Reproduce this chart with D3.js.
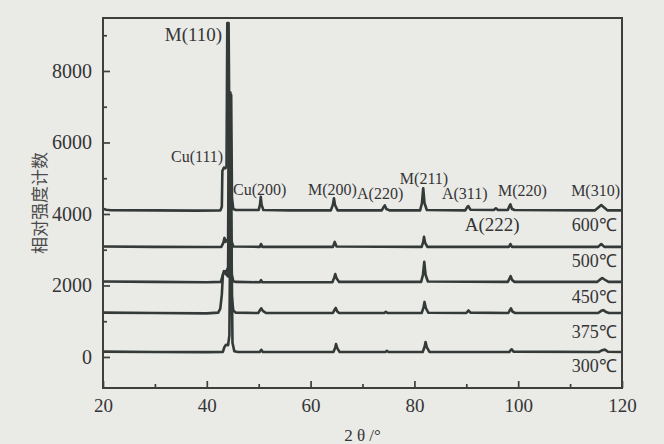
<!DOCTYPE html>
<html>
<head>
<meta charset="utf-8">
<script src="https://cdn.jsdelivr.net/npm/d3@7"></script>
<style>
  html, body { margin: 0; padding: 0; background: #eaeae7; }
  svg { display: block; }
  svg text { fill: #353535; font-family: "Liberation Serif", "Times New Roman", serif; }
  svg text.cjk { font-family: "Noto Sans CJK SC", sans-serif; fill: #4a4a4a; }
</style>
</head>
<body>
<svg id="chart" width="664" height="444"></svg>
<script>
// XRD patterns, [2θ (°), relative intensity (counts)], stacked by annealing temperature
const temperatures = ["600℃", "500℃", "450℃", "375℃", "300℃"];

const pattern600 = [
  [20, 4150], [20.6, 4120], [21.5, 4105], [30, 4100], [38, 4095], [42.6, 4100], [42.9, 4200],
  [43.0, 5200], [43.3, 5300], [43.6, 5280], [43.8, 5320], [43.95, 9340], [44.2, 9340],
  [44.3, 7330], [44.7, 7330], [44.85, 4450], [45.1, 4140], [45.6, 4110], [50.0, 4110],
  [50.25, 4260], [50.4, 4480], [50.55, 4260], [50.9, 4110], [56, 4100], [63.9, 4100],
  [64.3, 4260], [64.5, 4440], [64.7, 4250], [65.2, 4100], [73.7, 4100], [74.1, 4200],
  [74.3, 4240], [74.6, 4140], [75.2, 4100], [81.1, 4100], [81.45, 4300], [81.7, 4720],
  [81.95, 4300], [82.4, 4110], [89.8, 4100], [90.2, 4200], [90.4, 4220], [90.8, 4120],
  [95.3, 4110], [95.7, 4160], [96.1, 4110], [98.0, 4110], [98.3, 4220], [98.5, 4270],
  [98.8, 4140], [99.3, 4110], [114.8, 4100], [115.5, 4190], [116.0, 4250], [116.5, 4190],
  [117.2, 4100], [120, 4100]
];

const pattern500 = [
  [20, 3090], [30, 3080], [40, 3075], [42.8, 3080], [43.2, 3200], [43.4, 3330], [43.6, 3220],
  [44.1, 3300], [44.3, 7400], [44.55, 7400], [44.75, 3250], [45.1, 3090], [50.2, 3080],
  [50.45, 3160], [50.7, 3080], [64.3, 3080], [64.65, 3220], [65.0, 3090], [81.4, 3080],
  [81.7, 3220], [81.85, 3360], [82.05, 3200], [82.5, 3080], [98.2, 3080], [98.5, 3160],
  [98.8, 3080], [115.4, 3080], [116.0, 3160], [116.6, 3080], [120, 3080]
];

const pattern450 = [
  [20, 2110], [30, 2100], [40, 2090], [42.7, 2100], [43.0, 2250], [43.3, 2400], [43.7, 2380],
  [44.1, 2500], [44.3, 6400], [44.55, 6400], [44.75, 2350], [45.1, 2120], [45.6, 2100],
  [50.2, 2090], [50.45, 2150], [50.7, 2090], [64.2, 2090], [64.55, 2220], [64.75, 2320],
  [65.0, 2200], [65.5, 2100], [81.3, 2100], [81.65, 2300], [81.9, 2660], [82.15, 2300],
  [82.6, 2110], [98.0, 2100], [98.35, 2200], [98.55, 2260], [98.85, 2150], [99.3, 2100],
  [115.2, 2100], [115.8, 2170], [116.2, 2210], [116.7, 2160], [117.4, 2100], [120, 2100]
];

const pattern375 = [
  [20, 1240], [30, 1230], [40, 1220], [42.2, 1240], [42.6, 1350], [42.9, 1750], [43.1, 2300],
  [43.4, 2380], [43.8, 2300], [44.15, 2250], [44.35, 4800], [44.6, 4800], [44.8, 1700],
  [45.1, 1300], [45.6, 1240], [49.9, 1230], [50.3, 1320], [50.5, 1360], [50.8, 1290],
  [51.4, 1230], [64.3, 1230], [64.65, 1330], [64.85, 1370], [65.1, 1280], [65.5, 1230],
  [74.2, 1230], [74.5, 1265], [74.8, 1230], [81.4, 1230], [81.75, 1380], [81.95, 1540],
  [82.2, 1370], [82.7, 1235], [90.0, 1230], [90.4, 1300], [90.8, 1240], [98.1, 1230],
  [98.4, 1310], [98.6, 1360], [98.9, 1270], [99.4, 1230], [115.4, 1230], [116.0, 1290],
  [116.4, 1310], [116.9, 1260], [117.5, 1230], [120, 1230]
];

const pattern300 = [
  [20, 150], [30, 140], [40, 135], [43.1, 140], [43.4, 280], [43.7, 340], [44.1, 330],
  [44.35, 600], [44.5, 3300], [44.75, 3300], [44.95, 400], [45.3, 160], [46, 140],
  [50.2, 140], [50.5, 200], [50.8, 140], [64.4, 140], [64.75, 260], [64.9, 360],
  [65.15, 240], [65.6, 140], [74.4, 140], [74.7, 170], [75.0, 140], [81.6, 140],
  [81.95, 280], [82.15, 420], [82.4, 270], [82.9, 140], [98.3, 140], [98.6, 200],
  [98.75, 215], [99.1, 150], [115.6, 140], [116.2, 190], [116.7, 205], [117.3, 145],
  [120, 140]
];

const patterns = [pattern600, pattern500, pattern450, pattern375, pattern300];

// Phase labels: text, 2θ anchor, intensity anchor
const peakNames = ["M(110)", "Cu(111)", "Cu(200)", "M(200)", "A(220)", "M(211)", "A(311)", "M(220)", "M(310)", "A(222)"];
const peakAngles = [42.95, 43.15, 45.05, 59.5, 68.95, 77.2, 85.3, 96.1, 110.2, 89.7];
const peakCounts = [8830, 5460, 4530, 4530, 4420, 4840, 4420, 4500, 4500, 3530];

// Temperature label anchors (intensity) next to the right frame
const tempLabelCounts = [3530, 2520, 1510, 540, -420];

const xTicks = [20, 40, 60, 80, 100, 120];
const xMinorTicks = [30, 50, 70, 90, 110];
const yTicks = [0, 2000, 4000, 6000, 8000];
const yMinorTicks = [1000, 3000, 5000, 7000, 9000];

const svg = d3.select("#chart");
const plotLeft = 103, plotRight = 622, plotTop = 18, plotBottom = 388;

const x = d3.scaleLinear().domain([20, 120]).range([plotLeft, plotRight]);
const y = d3.scaleLinear().domain([-868, 9482]).range([plotBottom, plotTop]);

// Traces
const line = d3.line().x(d => x(d[0])).y(d => y(d[1]));
svg.append("g")
  .selectAll("path")
  .data(patterns)
  .join("path")
  .attr("d", line)
  .attr("fill", "none")
  .attr("stroke", "#343a38")
  .attr("stroke-width", 2.6)
  .attr("stroke-linejoin", "round");

// Frame
svg.append("rect")
  .attr("x", plotLeft).attr("y", plotTop)
  .attr("width", plotRight - plotLeft).attr("height", plotBottom - plotTop)
  .attr("fill", "none").attr("stroke", "#3e3e3e").attr("stroke-width", 2);

// Axes with inward ticks
const styleAxis = g => {
  g.attr("font-family", null).attr("font-size", null);
  g.select(".domain").remove();
  g.selectAll(".tick line").attr("stroke", "#3e3e3e").attr("stroke-width", 1.7);
  g.selectAll("text").attr("fill", null);
};

svg.append("g")
  .attr("transform", `translate(0,${plotBottom})`)
  .call(d3.axisBottom(x).tickValues(xTicks).tickSize(-7).tickPadding(11).tickFormat(d3.format("d")))
  .call(styleAxis)
  .call(g => g.selectAll("text").style("font-size", "19px"));

svg.append("g")
  .attr("transform", `translate(0,${plotBottom})`)
  .call(d3.axisBottom(x).tickValues(xMinorTicks).tickSize(-4).tickFormat(""))
  .call(styleAxis);

svg.append("g")
  .attr("transform", `translate(${plotLeft},0)`)
  .call(d3.axisLeft(y).tickValues(yTicks).tickSize(-7).tickPadding(11).tickFormat(d3.format("d")))
  .call(styleAxis)
  .call(g => g.selectAll("text").style("font-size", "20px"));

svg.append("g")
  .attr("transform", `translate(${plotLeft},0)`)
  .call(d3.axisLeft(y).tickValues(yMinorTicks).tickSize(-4).tickFormat(""))
  .call(styleAxis);

// Axis titles
svg.append("text")
  .attr("x", (plotLeft + plotRight) / 2).attr("y", 441)
  .attr("text-anchor", "middle")
  .style("font-size", "17px")
  .text("2 θ /°");

svg.append("text")
  .attr("class", "cjk")
  .attr("transform", `translate(46,${(plotTop + plotBottom) / 2}) rotate(-90)`)
  .attr("text-anchor", "middle")
  .style("font-size", "17px")
  .text("相对强度计数");

// Phase labels
svg.append("g")
  .selectAll("text")
  .data(peakNames)
  .join("text")
  .attr("x", (d, i) => x(peakAngles[i]))
  .attr("y", (d, i) => y(peakCounts[i]))
  .attr("text-anchor", (d, i) => i < 2 ? "end" : "start")
  .style("font-size", d => (d === "M(110)" || d === "A(222)") ? "19px" : "16px")
  .text(d => d);

// Temperature labels
svg.append("g")
  .selectAll("text")
  .data(temperatures)
  .join("text")
  .attr("x", x(119))
  .attr("y", (d, i) => y(tempLabelCounts[i]))
  .attr("text-anchor", "end")
  .style("font-size", "18px")
  .text(d => d);
</script>
</body>
</html>
